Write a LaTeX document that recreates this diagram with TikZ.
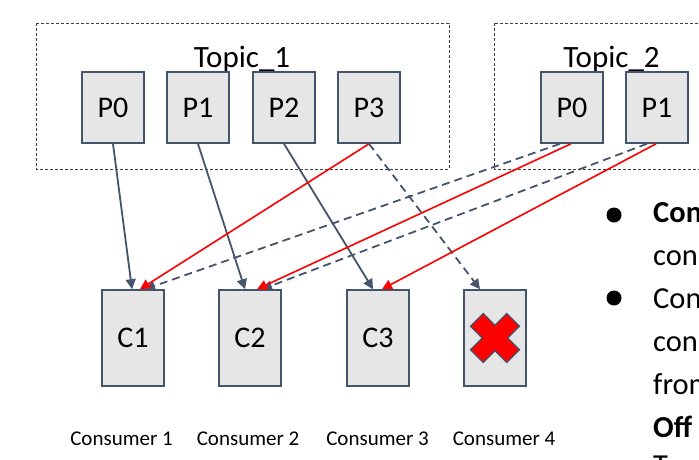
\documentclass[tikz,border=0pt]{standalone}
\usepackage{fontspec}
\setmainfont{Carlito}
\usetikzlibrary{arrows.meta}
\definecolor{slate}{HTML}{44546A}
\definecolor{boxfill}{HTML}{E6E6E6}
\definecolor{xred}{HTML}{FF0000}
\begin{document}
\begin{tikzpicture}[x=1pt,y=-1pt,
  topicbox/.style={draw=black!75, line width=0.8pt, dash pattern=on 3pt off 2pt},
  topiclabel/.style={anchor=base, inner sep=0pt, font=\fontsize{31}{33}\selectfont},
  part/.style={draw=slate, fill=boxfill, line width=1.6pt, minimum width=62pt, minimum height=71pt, inner sep=0pt, font=\fontsize{30}{31}\selectfont},
  cons/.style={draw=slate, fill=boxfill, line width=1.6pt, minimum width=62pt, minimum height=96pt, inner sep=0pt, font=\fontsize{30}{31}\selectfont},
  conslabel/.style={anchor=base, inner sep=0pt, font=\fontsize{21}{23}\selectfont},
  bodytext/.style={anchor=base west, inner sep=0pt, font=\fontsize{30.5}{32}\selectfont},
  solidarrow/.style={draw=slate, line width=1.8pt, -{Triangle[length=10pt,width=10pt]}},
  dasharrow/.style={draw=slate, line width=1.8pt, dash pattern=on 8pt off 5pt, -{Triangle[length=10pt,width=10pt]}},
  redarrow/.style={draw=xred, line width=1.6pt, -{Triangle[length=10pt,width=10pt]}},
  bulletdot/.style={fill=black}
]
\useasboundingbox (0,0) rectangle (699,459);
\clip (0,0) rectangle (699,459);

% topic frames
\draw[topicbox] (36,23) rectangle (449,169);
\draw[topicbox] (494,23) rectangle (720,169);
\node[topiclabel] (t1lab) at (242,67) {Topic\_1};
\node[topiclabel] (t2lab) at (611.5,67) {Topic\_2};

% partitions
\node[part] (t1p0) at (113,107.5) {P0};
\node[part] (t1p1) at (198,107.5) {P1};
\node[part] (t1p2) at (284,107.5) {P2};
\node[part] (t1p3) at (369,107.5) {P3};
\node[part] (t2p0) at (572,107.5) {P0};
\node[part] (t2p1) at (657,107.5) {P1};

% consumers
\node[cons] (c1) at (133,338) {C1};
\node[cons] (c2) at (250,338) {C2};
\node[cons] (c3) at (378,338) {C3};
\node[cons] (c4) at (495,338) {};

\node[conslabel] (l1) at (121.5,445) {Consumer 1};
\node[conslabel] (l2) at (248,445) {Consumer 2};
\node[conslabel] (l3) at (377.5,445) {Consumer 3};
\node[conslabel] (l4) at (504,445) {Consumer 4};

% red cross on consumer 4
\filldraw[fill=xred, draw=slate, line width=1.2pt, shift={(c4.center)}]
  (12.73,0) -- (24.46,11.74) -- (11.74,24.46) -- (0,12.73) -- (-11.74,24.46)
  -- (-24.46,11.74) -- (-12.73,0) -- (-24.46,-11.74) -- (-11.74,-24.46)
  -- (0,-12.73) -- (11.74,-24.46) -- (24.46,-11.74) -- cycle;

% connectors
\draw[dasharrow] (t1p3.south) -- ([xshift=-15pt]c4.north);
\draw[dasharrow] ([xshift=-12pt]t2p0.south) -- ([xshift=12pt]c1.north);
\draw[dasharrow] ([xshift=-10pt]t2p1.south) -- ([xshift=12pt]c2.north);
\draw[solidarrow] (t1p0.south) -- ([xshift=-1pt]c1.north);
\draw[solidarrow] (t1p1.south) -- ([xshift=-5pt]c2.north);
\draw[solidarrow] (t1p2.south) -- ([xshift=-5pt]c3.north);
\draw[redarrow] (t1p3.south) -- ([xshift=7pt]c1.north);
\draw[redarrow] ([xshift=-1pt]t2p0.south) -- ([xshift=7pt]c2.north);
\draw[redarrow] ([xshift=-1pt]t2p1.south) -- ([xshift=4pt]c3.north);

% right-hand text (cut off by the frame)
\fill[bulletdot] (614,215) circle (7.5);
\fill[bulletdot] (614,298) circle (7.5);
\node[bodytext] (r1) at (653,222) {\bfseries Con};
\node[bodytext] (r2) at (653,265) {con};
\node[bodytext] (r3) at (653,308) {Con};
\node[bodytext] (r4) at (653,351) {con};
\node[bodytext] (r5) at (653,394) {from};
\node[bodytext] (r6) at (653,437) {\bfseries Off};
\node[bodytext] (r7) at (653,475) {T};
\end{tikzpicture}
\end{document}
